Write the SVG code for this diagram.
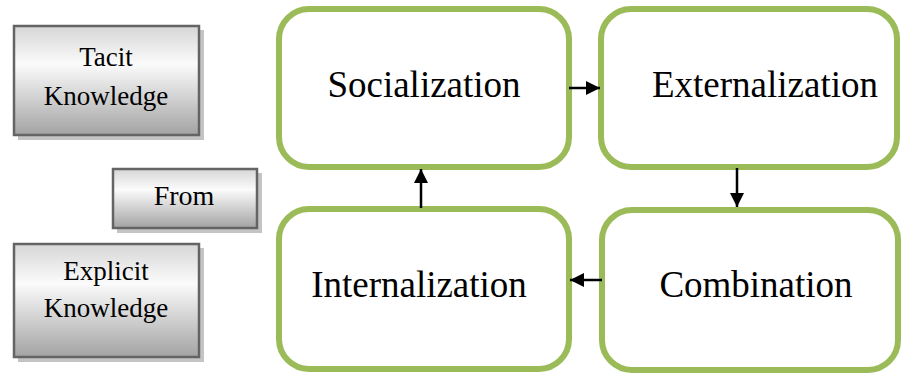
<svg xmlns="http://www.w3.org/2000/svg" width="901" height="375" viewBox="0 0 901 375" font-family="serif">
<defs>
<linearGradient id="g" x1="0" y1="0" x2="0" y2="1">
<stop offset="0" stop-color="#d6d6d6"/>
<stop offset="0.35" stop-color="#fbfbfb"/>
<stop offset="1" stop-color="#a3a3a3"/>
</linearGradient>
<marker id="ah" viewBox="0 0 10 10" refX="10" refY="5" markerWidth="5.6" markerHeight="5.6" orient="auto" markerUnits="strokeWidth">
<path d="M0,0 L10,5 L0,10 z" fill="#000"/>
</marker>
</defs>
<style>
.gb{fill:url(#g);stroke:#646464;stroke-width:2.5}
.sh{fill:#c4c4c4}
.nb{fill:#fff;stroke:#9bbb59;stroke-width:6}
.cn{stroke:#000;stroke-width:2.5;fill:none;marker-end:url(#ah)}
</style>
<rect width="901" height="375" fill="#fff"/>
<g id="tacit">
<rect class="sh" x="18" y="30" width="186" height="110"/>
<rect class="gb" x="14" y="26" width="185" height="109"/>
<text x="106" y="66" font-family="serif" font-size="27" text-anchor="middle">Tacit</text>
<text x="106" y="105" font-family="serif" font-size="27" text-anchor="middle">Knowledge</text>
</g>
<g id="from">
<rect class="sh" x="117" y="173" width="145" height="60"/>
<rect class="gb" x="113" y="169" width="144" height="59"/>
<text x="184" y="205" font-family="serif" font-size="28" text-anchor="middle">From</text>
</g>
<g id="explicit">
<rect class="sh" x="18" y="248" width="186" height="114"/>
<rect class="gb" x="14" y="244" width="185" height="113"/>
<text x="106" y="280" font-family="serif" font-size="27" text-anchor="middle">Explicit</text>
<text x="106" y="317" font-family="serif" font-size="27" text-anchor="middle">Knowledge</text>
</g>
<g id="socialization">
<rect class="nb" x="279" y="9" width="290" height="158" rx="30"/>
<text x="424" y="97" font-family="serif" font-size="37" text-anchor="middle">Socialization</text>
</g>
<g id="externalization">
<rect class="nb" x="601" y="9" width="296" height="158" rx="30"/>
<text x="765" y="97" font-family="serif" font-size="37" text-anchor="middle">Externalization</text>
</g>
<g id="internalization">
<rect class="nb" x="279" y="209" width="290" height="160" rx="30"/>
<text x="419" y="297" font-family="serif" font-size="37" text-anchor="middle">Internalization</text>
</g>
<g id="combination">
<rect class="nb" x="602" y="210" width="296" height="160" rx="30"/>
<text x="756" y="297" font-family="serif" font-size="37" text-anchor="middle">Combination</text>
</g>
<g id="connectors">
<line class="cn" x1="569" y1="88" x2="600" y2="88"/>
<line class="cn" x1="737" y1="168" x2="737" y2="207"/>
<line class="cn" x1="602" y1="280" x2="570" y2="280"/>
<line class="cn" x1="421" y1="208" x2="421" y2="169"/>
</g>
</svg>
